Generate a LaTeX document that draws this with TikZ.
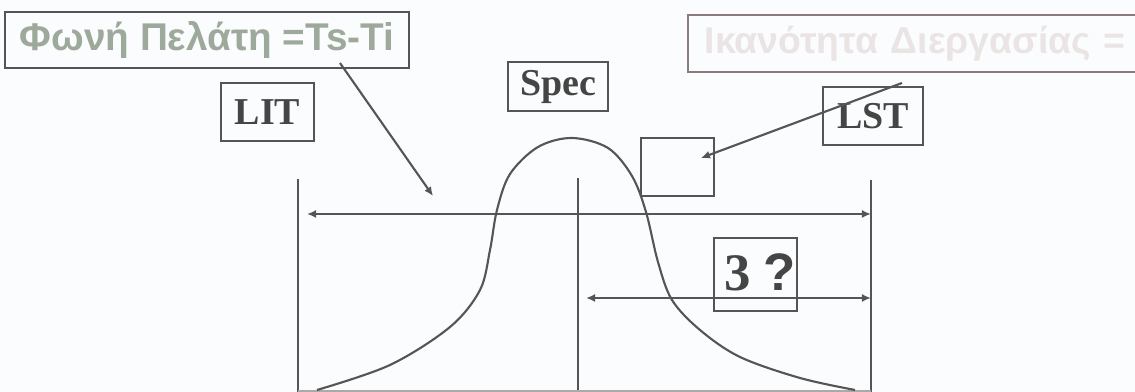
\documentclass[tikz,border=0pt]{standalone}
\usepackage{fontspec}
\setmainfont{Liberation Serif}
\newfontfamily\sansb{Liberation Sans}
\usetikzlibrary{arrows.meta}
\definecolor{ink}{HTML}{454545}
\definecolor{linec}{HTML}{555555}
\definecolor{greentxt}{HTML}{9DA99B}
\definecolor{palebox}{HTML}{8C7B7B}
\definecolor{paletxt}{HTML}{EAE4E4}
\definecolor{bg}{HTML}{FBFCFD}
\tikzset{
  lbl/.style={draw=linec, line width=0.6pt, inner sep=0pt, font=\fontsize{10.8pt}{12pt}\selectfont\bfseries, text=ink},
  greekbox/.style={draw=linec, line width=0.6pt, inner sep=0pt, font=\sansb\fontsize{11pt}{12pt}\selectfont\bfseries},
  conn/.style={draw=linec, line width=0.6pt},
  arr/.style={conn, -{Latex[length=0.09cm,width=0.08cm]}},
  darr/.style={conn, {Latex[length=0.09cm,width=0.08cm]}-{Latex[length=0.09cm,width=0.08cm]}},
}
\begin{document}
\begin{tikzpicture}[x=0.01cm,y=-0.01cm]
\useasboundingbox[fill=bg] (0,0) rectangle (1135,392);

% boxes
\node[greekbox, text=greentxt, minimum width=4.04cm, minimum height=0.56cm] (fw) at (207,40) {Φωνή Πελάτη =Ts-Ti};
\node[greekbox, draw=palebox, text=paletxt, text width=4.18cm, align=left, inner xsep=0.17cm, minimum height=0.57cm] (ik) at (914,43.5) {\rlap{\fontsize{10.6pt}{12pt}\selectfont Ικανότητα Διεργασίας =}};
\node[lbl, minimum width=0.93cm, minimum height=0.58cm] (lit) at (267.5,112) {LIT};
\node[lbl, minimum width=1.00cm, minimum height=0.49cm] (spec) at (558,86.5) {Spec};
\node[lbl, minimum width=1.00cm, minimum height=0.58cm] (lst) at (873,116) {LST};
\node[draw=linec, line width=0.6pt, minimum width=0.73cm, minimum height=0.58cm, inner sep=0pt] (sm) at (677.5,167) {};

% verticals
\coordinate (v1t) at (298,179); \coordinate (v1b) at (298,392);
\coordinate (v2t) at (578,178); \coordinate (v2b) at (578,392);
\coordinate (v3t) at (871,180); \coordinate (v3b) at (871,392);
\draw[conn] (v1t) -- (v1b);
\draw[conn] (v2t) -- (v2b);
\draw[conn] (v3t) -- (v3b);

% baseline
\coordinate (b1) at (298,391); \coordinate (b2) at (871,391);
\draw[draw=linec!50, line width=0.5pt] (b1) -- (b2);

% horizontal arrows
\coordinate (h1l) at (307,214); \coordinate (h1r) at (871,214);
\coordinate (h2l) at (586,298); \coordinate (h2r) at (871,298);
\draw[darr] (h1l) -- (h1r);
\draw[darr] (h2l) -- (h2r);

% bell curve
\draw[conn] plot[smooth, tension=0.55] coordinates {(317,390) (390,365) (450,327) (480,290) (490,250) (497,210) (510,174) (538,147) (572,138) (608,148) (632,176) (646,212) (658,262) (672,300) (700,330) (740,357) (800,378) (855,390)};

% 3? box
\node[draw=linec, line width=0.6pt, inner sep=0pt, minimum width=0.83cm, minimum height=0.73cm] (q) at (755.5,274.5) {};
\node[text=ink, inner sep=0pt, anchor=base] (qt) at (760,291) {\fontsize{15pt}{17pt}\selectfont\bfseries 3\hspace{0.13cm}{\sansb ?}};

% annotation arrows
\coordinate (a1s) at (340,63); \coordinate (a1e) at (433,196);
\draw[arr] (a1s) -- (a1e);
\coordinate (a2s) at (902,83); \coordinate (a2e) at (701,158);
\draw[arr] (a2s) -- (a2e);
\end{tikzpicture}
\end{document}
